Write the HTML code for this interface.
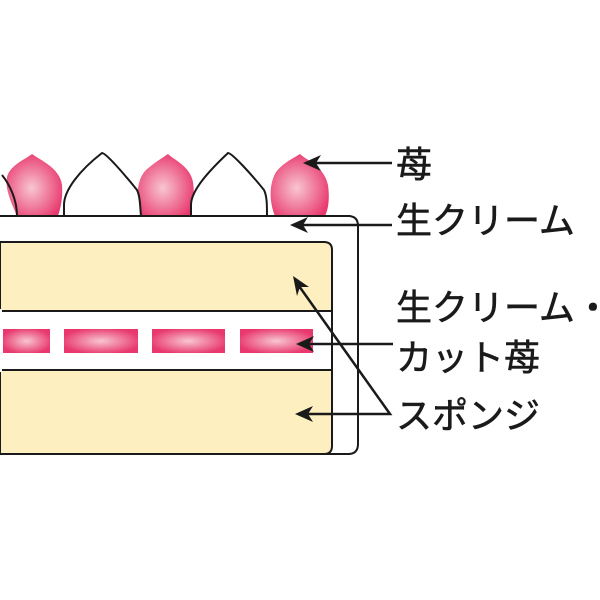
<!DOCTYPE html>
<html><head><meta charset="utf-8"><style>html,body{margin:0;padding:0;background:#fff}svg{display:block}</style></head>
<body>
<svg width="600" height="600" viewBox="0 0 600 600" xmlns="http://www.w3.org/2000/svg">
<defs>
<radialGradient id="b" cx="0.45" cy="0.55" r="0.6"><stop offset="0" stop-color="#f8c6d0"/><stop offset="1" stop-color="#e8386e"/></radialGradient>
<radialGradient id="c" cx="0.5" cy="0.5" r="0.55"><stop offset="0" stop-color="#f8c6d0"/><stop offset="1" stop-color="#e8386e"/></radialGradient>
</defs>
<path d="M0,216 H348 Q358,216 358,226 V444 Q358,454 348,454 H0" fill="#fff" stroke="#1a1a1a" stroke-width="2"/>
<path d="M0,242 H324 Q332,242 332,250 V446 Q332,454 324,454 H0 Z" fill="#fdefc0" stroke="#1a1a1a" stroke-width="2"/>
<rect x="0" y="311" width="332" height="59" fill="#fff" stroke="#1a1a1a" stroke-width="2"/>
<rect x="0" y="309" width="2" height="63" fill="#fff"/>
<rect x="3" y="329" width="47" height="24" fill="url(#c)"/>
<rect x="64" y="329" width="74" height="24" fill="url(#c)"/>
<rect x="152" y="329" width="73" height="24" fill="url(#c)"/>
<rect x="240" y="329" width="73" height="24" fill="url(#c)"/>
<path d="M17,216 C10,200 5,188 7,177 C10,165 26,159 32,154 C40,160 60,168 62,185 C63,200 60,210 58,216 Z" fill="url(#b)"/>
<path d="M2,175 C10,185 17,200 17,216" fill="none" stroke="#1a1a1a" stroke-width="2"/>
<path d="M140,216 C136,200 136,180 146,170 C154,163 162,158 168,154 C174,160 190,166 193,182 C195,196 193,208 190,216 Z" fill="url(#b)"/>
<path d="M275,216 C270,204 268,186 276,172 C284,162 294,158 300,154 C306,160 324,166 328,185 C330,200 328,210 325,216 Z" fill="url(#b)"/>
<path d="M64,216 V205 C64,190 80,170 102,153 C106,153 125,175 137,190 C140,196 140,205 141,216" fill="#fff" stroke="#1a1a1a" stroke-width="2"/>
<path d="M191,216 V205 C191,190 210,170 228,153 C232,153 252,175 264,190 C267,196 267,205 267,216" fill="#fff" stroke="#1a1a1a" stroke-width="2"/>
<line x1="0" y1="216" x2="350" y2="216" stroke="#1a1a1a" stroke-width="2"/>
<g stroke="#1a1a1a" stroke-width="2.5" fill="none">
<line x1="392" y1="163" x2="315" y2="163"/>
<line x1="392" y1="225" x2="300" y2="225"/>
<line x1="393" y1="344" x2="306" y2="344"/>
<path d="M299,286 L390,414 H303"/>
</g>
<g fill="#1a1a1a">
<path d="M303,163 L321,155 L316,163 L321,171 Z"/>
<path d="M290,225 L308,217 L303,225 L308,233 Z"/>
<path d="M296,344 L314,336 L309,344 L314,352 Z"/>
<path d="M295,414 L313,406 L308,414 L313,422 Z"/>
<path d="M293,276 L309,287 L300,287 L297,296 Z"/>
</g>
<g font-family="'Liberation Sans','Noto Sans CJK JP',sans-serif" font-size="36" fill="#1a1a1a" stroke="#1a1a1a" stroke-width="0.6">
<text x="396" y="177">苺</text>
<text x="396" y="233">生クリーム</text>
<text x="396" y="320">生クリーム・</text>
<text x="396" y="370">カット苺</text>
<text x="396" y="428">スポンジ</text>
</g>
</svg>
</body></html>
